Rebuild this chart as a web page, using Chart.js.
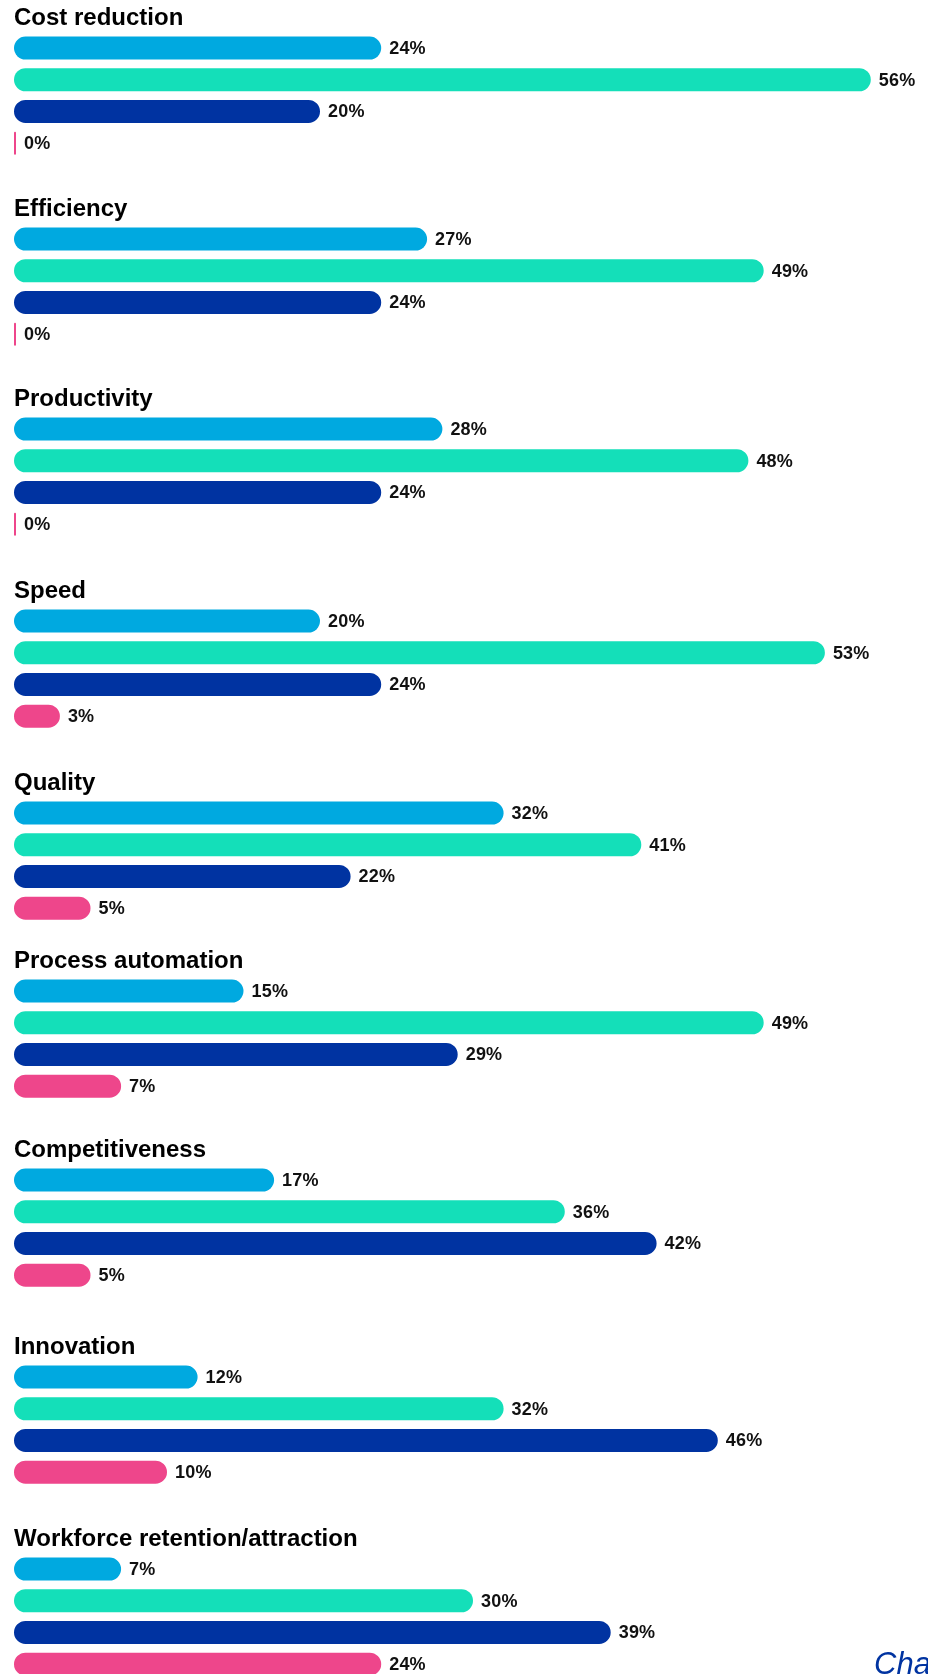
<!DOCTYPE html>
<html>
<head>
<meta charset="utf-8">
<script src="https://cdn.jsdelivr.net/npm/chart.js@4"></script>
<style>
    html, body {
        margin: 0;
        padding: 0;
        background: #fff;
        width: 928px;
        height: 1674px;
        overflow: hidden;
    }
    #charts {
        position: relative;
        width: 928px;
        height: 1674px;
    }
    .block {
        position: absolute;
        left: 0;
        width: 928px;
        height: 159px;
    }
    #credit {
        position: absolute;
        left: 874px;
        top: 1648px;
        font: italic 31px/31px "Liberation Sans", Arial, sans-serif;
        color: #0033a1;
        white-space: nowrap;
    }
</style>
</head>
<body>
<div id="charts"></div>
<div id="credit">Chart:</div>
<script>
const categories = [
    'Cost reduction',
    'Efficiency',
    'Productivity',
    'Speed',
    'Quality',
    'Process automation',
    'Competitiveness',
    'Innovation',
    'Workforce retention/attraction'
];

// one value per category, in the order above (percent)
const cyanValues = [24, 27, 28, 20, 32, 15, 17, 12, 7];
const tealValues = [56, 49, 48, 53, 41, 49, 36, 32, 30];
const navyValues = [20, 24, 24, 24, 22, 29, 42, 46, 39];
const pinkValues = [0, 0, 0, 3, 5, 7, 5, 10, 24];

const barColors = ['#00a9e0', '#14dfb9', '#0033a1', '#ee468b'];

// vertical offset of each category block on the page
const blockTops = [0, 191, 381, 573, 765, 943, 1132, 1329, 1521];

const FONT = '"Liberation Sans", Arial, sans-serif';

const valueLabels = {
    id: 'valueLabels',
    afterDatasetsDraw(chart) {
        const ctx = chart.ctx;
        const meta = chart.getDatasetMeta(0);
        const values = chart.data.datasets[0].data;
        ctx.save();
        ctx.font = `bold 18px ${FONT}`;
        ctx.letterSpacing = '0.2px';
        ctx.fillStyle = '#111';
        ctx.textAlign = 'left';
        ctx.textBaseline = 'middle';
        meta.data.forEach((bar, i) => {
            ctx.fillText(`${values[i]}%`, bar.x + 8, bar.y + 1);
        });
        ctx.restore();
    }
};

function drawCategory(index) {
    let block = document.createElement('div');
    block.className = 'block';
    block.style.top = blockTops[index] + 'px';
    let canvas = document.createElement('canvas');
    canvas.width = 928;
    canvas.height = 159;
    block.appendChild(canvas);
    document.getElementById('charts').appendChild(block);

    let values = [cyanValues[index], tealValues[index], navyValues[index], pinkValues[index]];

    new Chart(canvas.getContext('2d'), {
        type: 'bar',
        data: {
            labels: ['cyan', 'teal', 'navy', 'pink'],
            datasets: [{
                data: values,
                backgroundColor: barColors,
                borderRadius: 12,
                borderSkipped: false,
                barPercentage: 0.726,
                categoryPercentage: 1,
                minBarLength: 2
            }]
        },
        options: {
            indexAxis: 'y',
            responsive: false,
            animation: false,
            devicePixelRatio: 1,
            layout: {
                padding: {left: 14, right: 11.3, top: 0, bottom: 0}
            },
            scales: {
                x: {display: false, min: 0, max: 59},
                y: {display: false}
            },
            plugins: {
                legend: {display: false},
                tooltip: {enabled: false},
                title: {
                    display: true,
                    text: categories[index],
                    align: 'start',
                    color: '#000',
                    font: {family: FONT, size: 24, weight: 'bold', lineHeight: 1.15},
                    padding: {top: 4.6, bottom: 0}
                }
            }
        },
        plugins: [valueLabels]
    });
}

categories.forEach((name, i) => drawCategory(i));
</script>
</body>
</html>
